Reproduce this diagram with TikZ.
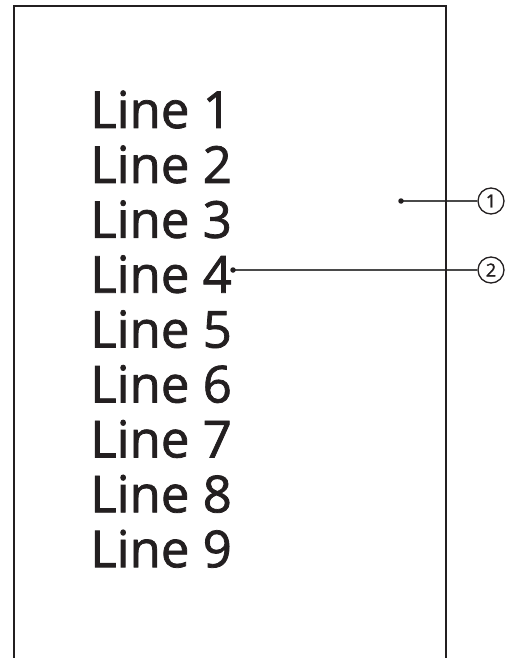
\documentclass[tikz,border=0pt]{standalone}
\usepackage{fontspec}
\setmainfont{Open Sans}
\newfontfamily\heavysans[FakeBold=1.5]{Open Sans}
\definecolor{ink}{HTML}{231F20}
\definecolor{leader}{HTML}{4A4A4A}
\tikzset{
  linetext/.style={anchor=base west,inner sep=0pt,text=ink,font=\heavysans\fontsize{51}{55}\selectfont},
  callnum/.style={circle,draw=ink,line width=1.3pt,minimum size=26pt,inner sep=0pt,text=ink,font=\heavysans\fontsize{18}{18}\selectfont},
  leaderline/.style={draw=leader,line width=1.1pt},
  leaderdot/.style={fill=ink,circle,inner sep=0pt,minimum size=5.5pt},
  frame/.style={draw=ink,line width=2.4pt}
}
\begin{document}
\begin{tikzpicture}[x=1pt,y=-1pt]
\useasboundingbox (0,0) rectangle (510,658);
\foreach \i in {1,...,9}{
  \node[linetext] (l\i) at (90,{128+(\i-1)*54.9}) {Line \i};
}
\node[callnum] (c1) at (491,201) {1};
\node[callnum] (c2) at (491,270) {2};
\coordinate (p1) at (401,201);
\coordinate (p2) at (233,270);
\draw[leaderline] (p1) -- (c1.west);
\draw[leaderline] (p2) -- (c2.west);
\node[leaderdot] at (p1) {};
\node[leaderdot] at (p2) {};
\draw[frame] (14,660) -- (14,6) -- (446,6) -- (446,660);
\end{tikzpicture}
\end{document}
